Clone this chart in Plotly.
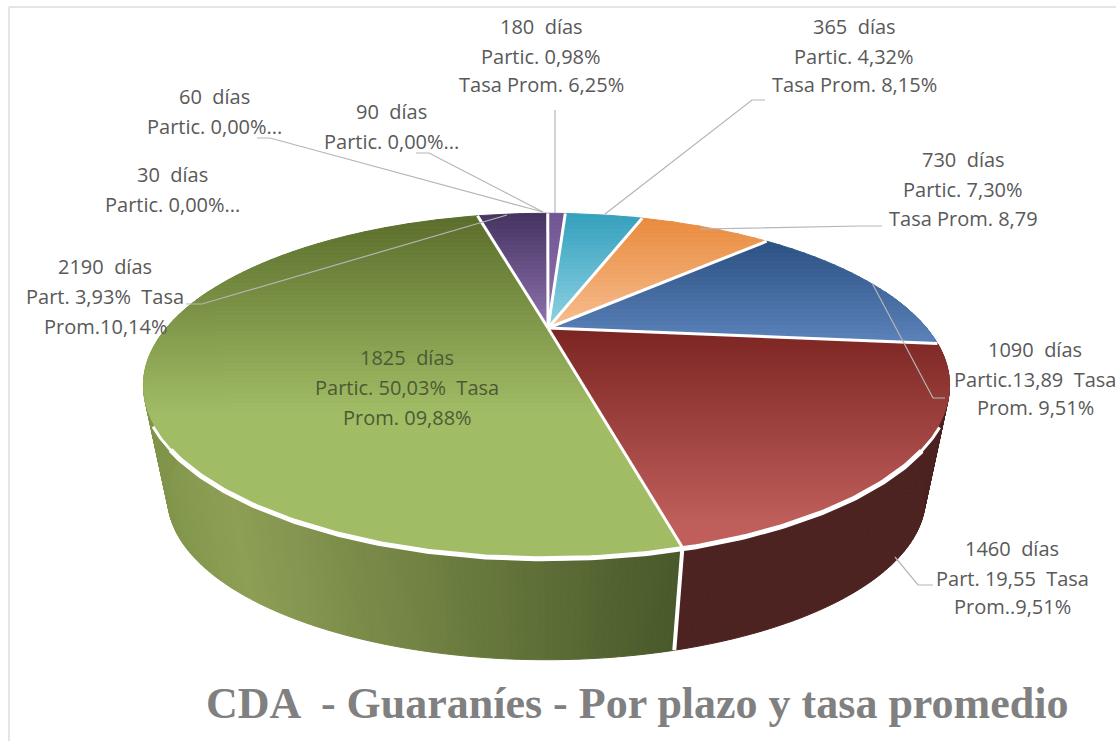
import math
import plotly.graph_objects as go

# ---------- data ----------
plazos = ["180 días", "365 días", "730 días", "1090 días", "1460 días", "1825 días", "2190 días"]
particip = [0.98, 4.32, 7.30, 13.89, 19.55, 50.03, 3.93]
top_dark = ["#6f5592", "#35a0bd", "#e98a3c", "#2b5082", "#7b2522", "#5a6d2b", "#443361"]
top_light = ["#8f74ae", "#8fd2e3", "#f7bd90", "#5c83bb", "#c05f5c", "#a1bc65", "#8f73ae"]
light_at = [1.0, 1.0, 1.0, 1.0, 0.9, 0.58, 1.0]
wall_left = ["#6f5592", "#35a0bd", "#c77a35", "#2b5082", "#4f2522", "#8d9f55", "#443361"]
wall_right = ["#6f5592", "#35a0bd", "#c77a35", "#2b5082", "#4d2321", "#485829", "#443361"]

labels = [
    (541, [(26, "180  días"), (56, "Partic. 0,98%"), (84, "Tasa Prom. 6,25%")], "#595959"),
    (854, [(26, "365  días"), (56, "Partic. 4,32%"), (84, "Tasa Prom. 8,15%")], "#595959"),
    (963, [(159, "730  días"), (189, "Partic. 7,30%"), (218, "Tasa Prom. 8,79")], "#595959"),
    (1035, [(349, "1090  días"), (379, "Partic.13,89  Tasa"), (407, "Prom. 9,51%")], "#595959"),
    (1012, [(548, "1460  días"), (578, "Part. 19,55  Tasa"), (606, "Prom..9,51%")], "#595959"),
    (407, [(357, "1825  días"), (387, "Partic. 50,03%  Tasa"), (417, "Prom. 09,88%")], "#4c5a34"),
    (105, [(266, "2190  días"), (296, "Part. 3,93%  Tasa"), (326, "Prom.10,14%")], "#595959"),
    (172, [(174, "30  días"), (204, "Partic. 0,00%...")], "#595959"),
    (214, [(96, "60  días"), (126, "Partic. 0,00%...")], "#595959"),
    (391, [(111, "90  días"), (141, "Partic. 0,00%...")], "#595959"),
]
leaders = [
    ([555, 555], [110, 213]),
    ([765, 752, 605], [100, 100, 214]),
    ([882, 860, 700], [226, 226, 229]),
    ([945, 933, 906, 872], [398, 398, 347, 283]),
    ([933, 918, 895], [585, 585, 557]),
    ([186, 202, 507], [304, 304, 215]),
    ([257, 270, 543], [138, 138, 212]),
    ([416, 429, 543], [153, 153, 212]),
]
title = "CDA  - Guaraníes - Por plazo y tasa promedio"

# ---------- projection of the round pie onto the page ----------
CX, CY, RX, RY, K = 546.5, 328, 380, 153, 1 / 3
CY_B, SCALE_B = 444, 0.94
ROT = 0.25


def project(deg, bottom=False, r=1.0):
    t = math.radians(deg + ROT)
    u, v = r * math.sin(t), r * math.cos(t)
    w = 1 + K * v
    s = SCALE_B if bottom else 1.0
    y0 = CY_B if bottom else CY
    return CX + s * RX * u / w, y0 - s * RY * v / w


def hex2rgb(c):
    return [int(c[i:i + 2], 16) for i in (1, 3, 5)]


def mix(a, b, f):
    f = max(0.0, min(1.0, f))
    ca, cb = hex2rgb(a), hex2rgb(b)
    return "rgb(%d,%d,%d)" % tuple(round(p + (q - p) * f) for p, q in zip(ca, cb))


def clip_band(poly, y1, y2):
    def clip(pts, keep, cross):
        out = []
        for i, p in enumerate(pts):
            q = pts[(i + 1) % len(pts)]
            if keep(p):
                out.append(p)
            if keep(p) != keep(q):
                out.append(cross(p, q))
        return out

    def at(y):
        return lambda p, q: (p[0] + (q[0] - p[0]) * (y - p[1]) / (q[1] - p[1]), y)

    res = clip(poly, lambda p: p[1] >= y1, at(y1))
    if res:
        res = clip(res, lambda p: p[1] <= y2, at(y2))
    return res


def polygon(pts, color, name=None, line=1.0):
    xs = [p[0] for p in pts] + [pts[0][0]]
    ys = [p[1] for p in pts] + [pts[0][1]]
    return go.Scatter(x=xs, y=ys, mode="lines", fill="toself", fillcolor=color,
                      line=dict(color=color, width=line), hoverinfo="skip",
                      showlegend=False, name=name)


def white(pts, width):
    return go.Scatter(x=[p[0] for p in pts], y=[p[1] for p in pts], mode="lines",
                      line=dict(color="white", width=width), hoverinfo="skip", showlegend=False)


fig = go.Figure()
total = sum(particip)
edges = [0.0]
for p in particip:
    edges.append(edges[-1] + 360.0 * p / total)

# side wall
for i, name in enumerate(plazos):
    a0, a1 = edges[i], edges[i + 1]
    n = max(1, int((a1 - a0) / 0.75))
    for j in range(n):
        d0, d1 = a0 + (a1 - a0) * j / n, a0 + (a1 - a0) * (j + 1) / n
        if math.cos(math.radians(d0)) > 0.25 and math.cos(math.radians(d1)) > 0.25:
            continue
        quad = [project(d0), project(d1), project(d1, bottom=True), project(d0, bottom=True)]
        xm = sum(q[0] for q in quad) / 4
        f = (xm - 240) / (680 - 240)
        col = mix(wall_left[i], wall_right[i], f)
        if xm < 240:
            col = mix("#7f9449" if name == "1825 días" else wall_left[i], wall_left[i], (xm - 146) / 94)
        fig.add_trace(polygon(quad, col, name))

# wall divider between 1460 and 1825
fig.add_trace(white([project(edges[5]), project(edges[5], bottom=True)], 4))

# top faces with vertical shading
for i, name in enumerate(plazos):
    a0, a1 = edges[i], edges[i + 1]
    n = max(2, int((a1 - a0) / 1.0))
    poly = [(CX + 1.5, CY)] + [project(a0 + (a1 - a0) * j / n) for j in range(n + 1)]
    ymin, ymax = min(p[1] for p in poly), max(p[1] for p in poly)
    y = ymin
    step = 4.0
    while y < ymax:
        part = clip_band(poly, y, y + step)
        if len(part) >= 3:
            f = (y + step / 2 - ymin) / ((ymax - ymin) * light_at[i])
            fig.add_trace(polygon(part, mix(top_dark[i], top_light[i], f), name))
        y += step

# white borders between slices
for i in range(len(plazos)):
    fig.add_trace(white([(CX + 1.5, CY), project(edges[i])], 3))

# rim along the front of the top face, just outside the face
rim = [project(edges[3] + d * 0.5, r=1.004) for d in range(int((edges[6] - edges[3]) * 2))]
fig.add_trace(white([p for p in rim if p[1] >= 426], 3))
fig.add_trace(white([p for p in rim if p[1] >= 450], 5))

# leader lines
for lx, ly in leaders:
    fig.add_trace(go.Scatter(x=lx, y=ly, mode="lines", line=dict(color="#b5b5b5", width=1.2),
                             hoverinfo="skip", showlegend=False))

# labels
ann = []
for cx, rows, color in labels:
    for y, text in rows:
        ann.append(dict(x=cx, y=y, text=text, showarrow=False, xanchor="center", yanchor="middle",
                        font=dict(family="Open Sans", size=20, color=color)))
ann.append(dict(x=637, y=703, text="<b>%s</b>" % title, showarrow=False, xanchor="center", yanchor="middle",
                font=dict(family="Liberation Serif", size=44, color="#808080")))

fig.update_layout(
    width=1116, height=741, margin=dict(l=0, r=0, t=0, b=0),
    paper_bgcolor="white", plot_bgcolor="white", showlegend=False,
    xaxis=dict(range=[0, 1116], visible=False, fixedrange=True),
    yaxis=dict(range=[741, 0], visible=False, fixedrange=True),
    annotations=ann,
    shapes=[
        dict(type="line", x0=9, x1=9, y0=7, y1=741, line=dict(color="#dcdcdc", width=1.5)),
        dict(type="line", x0=9, x1=1116, y0=7, y1=7, line=dict(color="#dcdcdc", width=1.5)),
    ],
)
fig.write_html("out.html", post_script="document.body.style.margin='0';", config=dict(displayModeBar=False))
